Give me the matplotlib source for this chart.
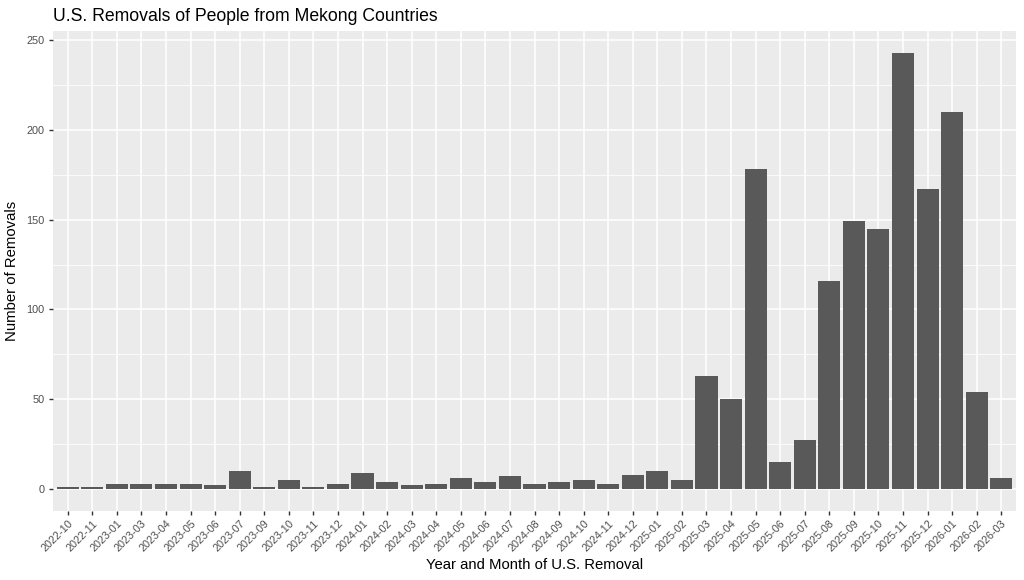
import matplotlib
matplotlib.use("Agg")
import matplotlib.pyplot as plt
from matplotlib.ticker import MultipleLocator
import numpy as np

months = ["2022-10", "2022-11", "2023-01", "2023-03", "2023-04", "2023-05", "2023-06",
          "2023-07", "2023-09", "2023-10", "2023-11", "2023-12", "2024-01", "2024-02",
          "2024-03", "2024-04", "2024-05", "2024-06", "2024-07", "2024-08", "2024-09",
          "2024-10", "2024-11", "2024-12", "2025-01", "2025-02", "2025-03", "2025-04",
          "2025-05", "2025-06", "2025-07", "2025-08", "2025-09", "2025-10", "2025-11",
          "2025-12", "2026-01", "2026-02", "2026-03"]
removals = [1, 1, 3, 3, 3, 3, 2,
            10, 1, 5, 1, 3, 9, 4,
            2, 3, 6, 4, 7, 3, 4,
            5, 3, 8, 10, 5, 63, 50,
            178, 15, 27, 116, 149, 145, 243,
            167, 210, 54, 6]
y_ticks = [0, 50, 100, 150, 200, 250]

title = "U.S. Removals of People from Mekong Countries"
xlabel = "Year and Month of U.S. Removal"
ylabel = "Number of Removals"

plt.rcParams['font.family'] = ['Liberation Sans', 'DejaVu Sans']

fig = plt.figure(figsize=(10.24, 5.8), dpi=100)
ax = fig.add_axes([53/1024, 1 - 510.7/580, (1016 - 53)/1024, (510.7 - 31)/580])

x = np.arange(len(months))
ax.set_facecolor("#EBEBEB")
ax.bar(x, removals, width=0.9, color="#595959", zorder=3)

ymax = max(removals)
ax.set_ylim(-0.05 * ymax, ymax * 1.05)
ax.set_xlim(-0.6, len(months) - 1 + 0.6)

ax.set_yticks(y_ticks)
ax.yaxis.set_minor_locator(MultipleLocator(25))
ax.set_xticks(x)
ax.set_xticklabels(months, rotation=45, ha="right", va="top", rotation_mode="anchor")

ax.grid(which="major", color="white", linewidth=1.1, zorder=1)
ax.grid(which="minor", axis="y", color="white", linewidth=0.55, zorder=1)
ax.set_axisbelow(True)

for s in ax.spines.values():
    s.set_visible(False)

ax.tick_params(axis="both", which="major", length=3.2, width=1, color="#333333",
               labelcolor="#4D4D4D")
ax.tick_params(axis="x", labelsize=7.8, pad=2.5)
ax.tick_params(axis="y", labelsize=7.8, pad=3)
ax.tick_params(which="minor", length=0)

ax.set_xlabel(xlabel, fontsize=10.7, color="black", labelpad=3)
ax.set_ylabel(ylabel, fontsize=10.7, color="black", labelpad=5)
ax.set_title(title, fontsize=12.7, loc="left", color="black", pad=7)

fig.savefig("out.png", dpi=100)
